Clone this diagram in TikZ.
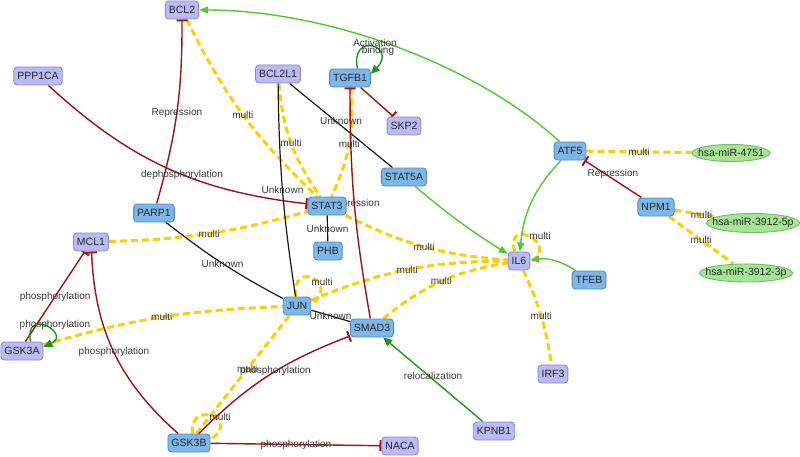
\documentclass[tikz,border=0pt]{standalone}
\usepackage{fontspec}
\setmainfont{Liberation Sans}
\usetikzlibrary{arrows.meta,shapes.geometric,backgrounds}
\definecolor{nodeblue}{RGB}{125,182,232}
\definecolor{nodeblueB}{RGB}{82,140,200}
\definecolor{nodepur}{RGB}{186,186,246}
\definecolor{nodepurB}{RGB}{138,138,212}
\definecolor{mirG}{RGB}{165,230,150}
\definecolor{mirGB}{RGB}{110,188,100}
\definecolor{edred}{RGB}{160,16,16}
\definecolor{edyel}{RGB}{255,206,0}
\definecolor{edlg}{RGB}{82,200,45}
\definecolor{eddg}{RGB}{28,150,28}
\definecolor{lbltext}{RGB}{55,55,55}
\tikzset{
 gene/.style={rectangle, rounded corners=3.5pt, draw, line width=0.9pt, minimum height=18pt, inner xsep=3.5pt, inner ysep=2pt, font=\fontsize{10.5}{12}\selectfont, text=black!85},
 bnode/.style={gene, fill=nodeblue, draw=nodeblueB},
 pnode/.style={gene, fill=nodepur, draw=nodepurB},
 mir/.style={ellipse, draw=mirGB, fill=mirG, line width=0.9pt, inner xsep=-30pt, inner ysep=-10pt, font=\fontsize{10.5}{12}\selectfont, text=black!85},
 lbl/.style={font=\fontsize{10}{11}\selectfont, text=lbltext, inner sep=1pt},
 yel/.style={draw=edyel, line width=3pt, dash pattern=on 7pt off 4pt},
 rep/.style={draw=edred, line width=1.4pt, -{Bar[width=11pt,line width=2pt]}},
 unk/.style={draw=black!90, line width=1.2pt},
 lga/.style={draw=edlg, line width=1.4pt, -{Triangle[length=9pt,width=7pt]}},
 dga/.style={draw=eddg, line width=1.4pt, -{Triangle[length=9pt,width=8pt]}},
}
\begin{document}
\begin{tikzpicture}[x=1pt,y=1pt]
\useasboundingbox (0,0) rectangle (800,456);
% nodes
\node[pnode] (BCL2) at (182,446) {BCL2};
\node[pnode] (PPP1CA) at (38,380) {PPP1CA};
\node[pnode] (BCL2L1) at (278,382) {BCL2L1};
\node[bnode] (TGFB1) at (350,378) {TGFB1};
\node[pnode] (SKP2) at (404,330) {SKP2};
\node[bnode] (STAT5A) at (404,279) {STAT5A};
\node[bnode] (ATF5) at (570,305) {ATF5};
\node[mir, minimum width=78pt, minimum height=17pt] (m4751) at (731,303) {hsa-miR-4751};
\node[bnode] (NPM1) at (656,249) {NPM1};
\node[mir, minimum width=93pt, minimum height=19pt] (m5p) at (753,233) {hsa-miR-3912-5p};
\node[mir, minimum width=93pt, minimum height=18pt] (m3p) at (746,183) {hsa-miR-3912-3p};
\node[pnode] (IL6) at (519,195) {IL6};
\node[bnode] (TFEB) at (589,176) {TFEB};
\node[pnode] (IRF3) at (553,82) {IRF3};
\node[bnode] (STAT3) at (327,250) {STAT3};
\node[bnode] (PHB) at (328,205) {PHB};
\node[bnode] (PARP1) at (154,243) {PARP1};
\node[pnode] (MCL1) at (91,214) {MCL1};
\node[pnode] (GSK3A) at (22,105) {GSK3A};
\node[bnode] (JUN) at (297,150) {JUN};
\node[bnode] (SMAD3) at (372,128) {SMAD3};
\node[bnode] (GSK3B) at (189,13) {GSK3B};
\node[pnode] (NACA) at (400,10) {NACA};
\node[pnode] (KPNB1) at (494,25) {KPNB1};
\begin{pgfonlayer}{background}
% yellow multi edges
\draw[yel] (BCL2) to[bend right=10] node[lbl]{multi} (STAT3);
\draw[yel] (BCL2L1) to[bend right=15] node[lbl]{multi} (STAT3);
\draw[yel] (TGFB1) to[bend left=15] node[lbl]{multi} (STAT3);
\draw[yel] (MCL1) to[bend right=7] node[lbl]{multi} (STAT3);
\draw[yel] (STAT3) to[bend right=11] node[lbl]{multi} (IL6);
\draw[yel] (JUN) to[bend left=11] node[lbl]{multi} (IL6);
\draw[yel] (SMAD3) to[bend left=15] node[lbl]{multi} (IL6);
\draw[yel] (GSK3A) to[bend left=7] node[lbl]{multi} (JUN);
\draw[yel] (GSK3B) -- node[lbl,pos=0.55]{multi} (JUN);
\draw[yel] (IL6) to[bend left=8] node[lbl]{multi} (IRF3);
\draw[yel] (ATF5) -- node[lbl]{multi} (m4751);
\draw[yel] (NPM1) -- node[lbl,pos=0.65]{multi} (m5p);
\draw[yel] (NPM1) -- node[lbl]{multi} (m3p);
\draw[yel] (IL6.114) .. controls (504,240) and (562,212) .. (IL6.-5);
\draw[yel] (JUN.95) .. controls (290,197) and (342,174) .. (JUN.5);
\draw[yel] (GSK3B.70) .. controls (189,58) and (242,36) .. (GSK3B.10);
\node[lbl] (lIL6) at (540,220) {multi};
\node[lbl] (lJUN) at (322,174) {multi};
\node[lbl] (lGSK3B) at (220,39) {multi};
% black unknown edges
\draw[unk] (BCL2L1) to[bend right=4] node[lbl]{Unknown} (JUN);
\draw[unk] (BCL2L1) -- node[lbl,yshift=5pt]{Unknown} (STAT5A);
\draw[unk] (STAT3) -- node[lbl]{Unknown} (PHB);
\draw[unk] (PARP1) to[bend right=5] node[lbl]{Unknown} (JUN);
\draw[unk] (JUN) -- node[lbl]{Unknown} (SMAD3);
% red repression edges
\draw[rep] (PARP1) to[bend right=8] node[lbl]{Repression} (BCL2);
\draw[rep] (PPP1CA) to[bend right=18] node[lbl,pos=0.56]{dephosphorylation} (STAT3);
\draw[rep] (TGFB1) -- (SKP2);
\draw[rep] (SMAD3) to[bend left=5] node[lbl]{Repression} (TGFB1);
\draw[rep] (NPM1) -- node[lbl,yshift=5pt]{Repression} (ATF5);
\draw[rep] (GSK3A.70) -- node[lbl]{phosphorylation} (MCL1);
\draw[rep] (GSK3B) to[bend left=23] node[lbl]{phosphorylation} (MCL1);
\draw[rep] (GSK3B) to[bend left=12] node[lbl,pos=0.55]{phosphorylation} (SMAD3);
\draw[rep] (GSK3B) -- node[lbl]{phosphorylation} (NACA);
% green arrows
\draw[lga] (ATF5) .. controls (470,396) and (320,446) .. (BCL2);
\draw[lga] (ATF5) to[bend right=19] (IL6);
\draw[lga] (STAT5A) to[bend right=4] (IL6);
\draw[lga] (TFEB) to[bend right=20] (IL6);
\draw[dga] (KPNB1) -- node[lbl,yshift=4pt]{relocalization} (SMAD3);
\draw[dga] (TGFB1.52) .. controls (350,425) and (398,410) .. (TGFB1.11);
\node[lbl] (lAct) at (375,413) {Activation};
\node[lbl] (lBind) at (378,405) {binding};
\draw[dga] (GSK3A.48) .. controls (24,150) and (72,122) .. (GSK3A.11);
\node[lbl] (lGA) at (55,131) {phosphorylation};
\end{pgfonlayer}
\end{tikzpicture}
\end{document}
